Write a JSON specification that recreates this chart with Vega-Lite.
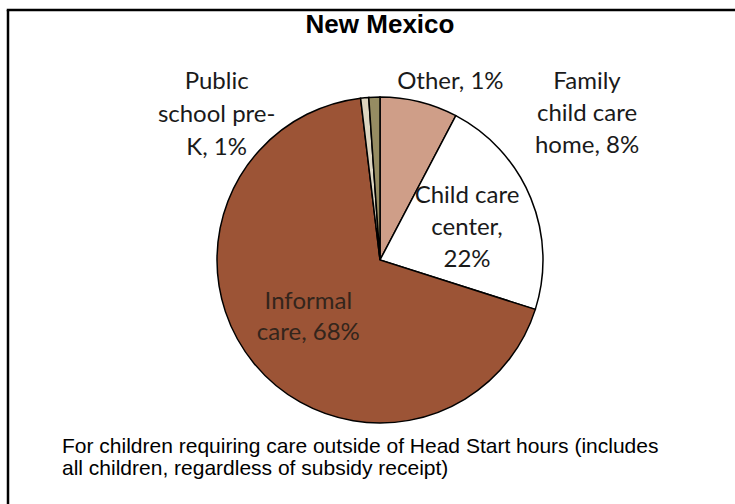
{
  "$schema": "https://vega.github.io/schema/vega-lite/v6.json",
  "width": 727,
  "height": 494,
  "autosize": "none",
  "padding": {"left": 8, "top": 10, "right": 0, "bottom": 0},
  "background": "white",
  "view": {"stroke": null, "fill": "white"},
  "datasets": {
    "care": [
      {"idx": 1, "type": "Family child care home", "share": 7.7, "label": ["Family", "child care", "home, 8%"]},
      {"idx": 2, "type": "Child care center", "share": 22.2, "label": ["Child care", "center,", "22%"]},
      {"idx": 3, "type": "Informal care", "share": 68.2, "label": ["Informal", "care, 68%"]},
      {"idx": 4, "type": "Public school pre-K", "share": 0.8, "label": ["Public", "school pre-", "K, 1%"]},
      {"idx": 5, "type": "Other", "share": 1.1, "label": ["Other, 1%"]}
    ]
  },
  "layer": [
    {
      "data": {"values": [{"edge": "top"}]},
      "mark": {"type": "rule", "color": "black", "strokeWidth": 2.5},
      "encoding": {"x": {"value": -1.25}, "x2": {"value": "width"}, "y": {"value": 0}, "y2": {"value": 0}}
    },
    {
      "data": {"values": [{"edge": "left"}]},
      "mark": {"type": "rule", "color": "black", "strokeWidth": 2.5},
      "encoding": {"x": {"value": 0}, "x2": {"value": 0}, "y": {"value": 0}, "y2": {"value": "height"}}
    },
    {
      "data": {"name": "care"},
      "mark": {"type": "arc", "outerRadius": 163, "stroke": "black", "strokeWidth": 1.5, "x": {"expr": "width/2 + 8.5"}, "y": {"expr": "height/2 + 3"}},
      "encoding": {
        "theta": {"field": "share", "type": "quantitative", "stack": true},
        "order": {"field": "idx", "type": "quantitative"},
        "color": {"field": "type", "type": "nominal", "legend": null,
          "scale": {"domain": ["Family child care home", "Child care center", "Informal care", "Public school pre-K", "Other"],
                    "range": ["#CF9E88", "#FFFFFF", "#9C5436", "#DDD5C0", "#968C62"]}}
      }
    },
    {
      "data": {"name": "care"},
      "mark": {"type": "text", "radius": 93, "dy": -29, "dx": 1, "x": {"expr": "width/2 + 8.5"}, "y": {"expr": "height/2 + 3"}, "font": "Lato", "fontSize": 24, "lineHeight": 32, "align": "center", "baseline": "middle", "color": "#1a1a1a"},
      "encoding": {
        "theta": {"field": "share", "type": "quantitative", "stack": true},
        "order": {"field": "idx", "type": "quantitative"},
        "detail": {"field": "type", "type": "nominal"},
        "text": {"condition": {"test": "datum.type === 'Child care center'", "field": "label"}, "value": ""}
      }
    },
    {
      "data": {"name": "care"},
      "mark": {"type": "text", "radius": 93, "dy": -17, "x": {"expr": "width/2 + 8.5"}, "y": {"expr": "height/2 + 3"}, "font": "Lato", "fontSize": 24, "lineHeight": 31, "align": "center", "baseline": "middle", "color": "#33251c"},
      "encoding": {
        "theta": {"field": "share", "type": "quantitative", "stack": true},
        "order": {"field": "idx", "type": "quantitative"},
        "detail": {"field": "type", "type": "nominal"},
        "text": {"condition": {"test": "datum.type === 'Informal care'", "field": "label"}, "value": ""}
      }
    },
    {
      "data": {"name": "care"},
      "mark": {"type": "text", "radius": 163, "dx": 168, "dy": -20, "x": {"expr": "width/2 + 8.5"}, "y": {"expr": "height/2 + 3"}, "font": "Lato", "fontSize": 24, "lineHeight": 32, "align": "center", "baseline": "middle", "color": "#1a1a1a"},
      "encoding": {
        "theta": {"field": "share", "type": "quantitative", "stack": true},
        "order": {"field": "idx", "type": "quantitative"},
        "detail": {"field": "type", "type": "nominal"},
        "text": {"condition": {"test": "datum.type === 'Family child care home'", "field": "label"}, "value": ""}
      }
    },
    {
      "data": {"name": "care"},
      "mark": {"type": "text", "radius": 163, "dx": -148, "dy": -16, "x": {"expr": "width/2 + 8.5"}, "y": {"expr": "height/2 + 3"}, "font": "Lato", "fontSize": 24, "lineHeight": 33, "align": "center", "baseline": "middle", "color": "#1a1a1a"},
      "encoding": {
        "theta": {"field": "share", "type": "quantitative", "stack": true},
        "order": {"field": "idx", "type": "quantitative"},
        "detail": {"field": "type", "type": "nominal"},
        "text": {"condition": {"test": "datum.type === 'Public school pre-K'", "field": "label"}, "value": ""}
      }
    },
    {
      "data": {"name": "care"},
      "mark": {"type": "text", "radius": 163, "dx": 76, "dy": -15, "x": {"expr": "width/2 + 8.5"}, "y": {"expr": "height/2 + 3"}, "font": "Lato", "fontSize": 24, "lineHeight": 32, "align": "center", "baseline": "middle", "color": "#1a1a1a"},
      "encoding": {
        "theta": {"field": "share", "type": "quantitative", "stack": true},
        "order": {"field": "idx", "type": "quantitative"},
        "detail": {"field": "type", "type": "nominal"},
        "text": {"condition": {"test": "datum.type === 'Other'", "field": "label"}, "value": ""}
      }
    },
    {
      "data": {"values": [{"heading": "New Mexico"}]},
      "mark": {"type": "text", "align": "center", "baseline": "middle", "font": "Liberation Sans", "fontSize": 26, "fontWeight": "bold", "color": "black", "x": {"expr": "width/2 + 8.5"}, "y": 15},
      "encoding": {"text": {"field": "heading"}}
    },
    {
      "data": {"values": [{"note": ["For children requiring care outside of Head Start hours (includes", "all children, regardless of subsidy receipt)"]}]},
      "mark": {"type": "text", "align": "left", "baseline": "middle", "font": "Liberation Sans", "fontSize": 21, "lineHeight": 21.5, "color": "black", "x": 54, "y": 437},
      "encoding": {"text": {"field": "note"}}
    }
  ]
}
